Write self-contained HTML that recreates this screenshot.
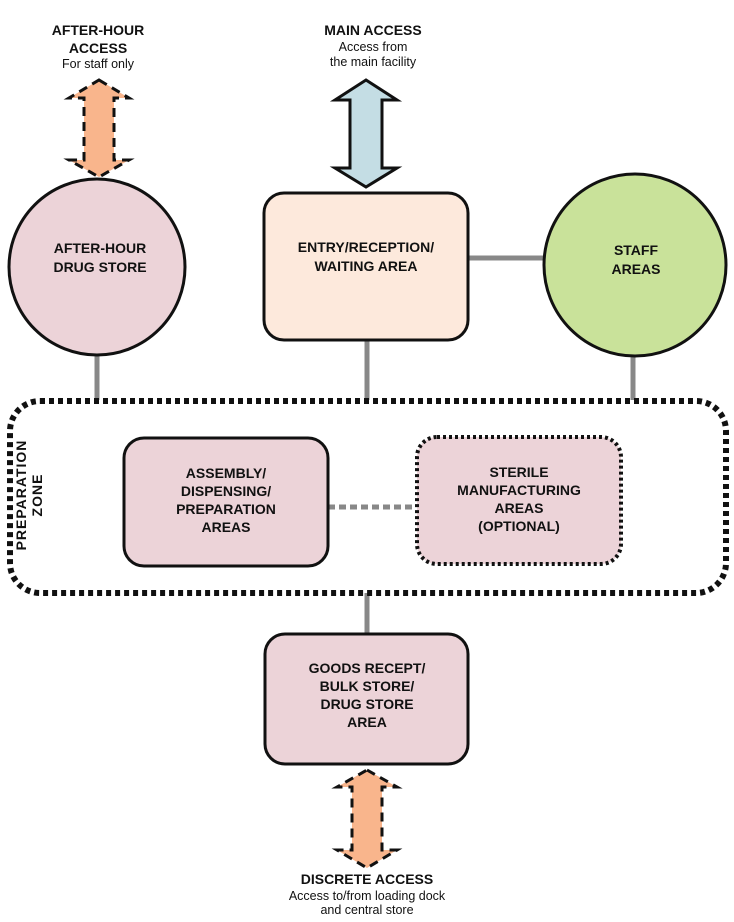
<!DOCTYPE html>
<html><head><style>
body{margin:0;background:#fff;}
svg text{font-family:"Liberation Sans",Arial,sans-serif;fill:#111;}
.b{font-weight:bold;font-size:14px;}
.n{font-size:12.5px;}
</style></head><body>
<svg width="734" height="917" viewBox="0 0 734 917" xmlns="http://www.w3.org/2000/svg">
<!-- labels top -->
<text class="b" x="98" y="35" text-anchor="middle">AFTER-HOUR</text>
<text class="b" x="98" y="53" text-anchor="middle">ACCESS</text>
<text class="n" x="98" y="68" text-anchor="middle">For staff only</text>
<text class="b" x="373" y="35" text-anchor="middle">MAIN ACCESS</text>
<text class="n" x="373" y="51" text-anchor="middle">Access from</text>
<text class="n" x="373" y="66" text-anchor="middle">the main facility</text>
<!-- after-hour arrow -->
<polygon points="99,80 129,98 114,98 114,160 129,160 99,177 69,160 84,160 84,98 69,98" fill="#f9b58c" stroke="#111" stroke-width="3" stroke-dasharray="9,6"/>
<!-- main arrow -->
<polygon points="366,80 397,100 382,100 382,168 397,168 366,187 335,168 350,168 350,100 335,100" fill="#c4dde4" stroke="#111" stroke-width="3"/>
<!-- connectors -->
<g stroke="#888" stroke-width="5">
<line x1="468" y1="258" x2="543" y2="258"/>
<line x1="97" y1="355" x2="97" y2="400"/>
<line x1="367" y1="340" x2="367" y2="400"/>
<line x1="633" y1="355" x2="633" y2="400"/>
<line x1="367" y1="593" x2="367" y2="635"/>
<line x1="328" y1="507" x2="415" y2="507" stroke-dasharray="7,4"/>
</g>
<!-- nodes -->
<circle cx="97" cy="267" r="88" fill="#ecd3d8" stroke="#111" stroke-width="3"/>
<text class="b" x="100" y="253" text-anchor="middle">AFTER-HOUR</text>
<text class="b" x="100" y="272" text-anchor="middle">DRUG STORE</text>
<rect x="264" y="193" width="204" height="147" rx="20" fill="#fde9dc" stroke="#111" stroke-width="3"/>
<text class="b" x="366" y="252" text-anchor="middle">ENTRY/RECEPTION/</text>
<text class="b" x="366" y="271" text-anchor="middle">WAITING AREA</text>
<circle cx="635" cy="265" r="91" fill="#c9e29a" stroke="#111" stroke-width="3"/>
<text class="b" x="636" y="255" text-anchor="middle">STAFF</text>
<text class="b" x="636" y="274" text-anchor="middle">AREAS</text>
<!-- prep zone -->
<rect x="10" y="401" width="716" height="192" rx="30" fill="none" stroke="#111" stroke-width="6" stroke-dasharray="5,4"/>
<text class="b" transform="translate(26,495) rotate(-90)" text-anchor="middle" style="letter-spacing:1px">PREPARATION</text>
<text class="b" transform="translate(42,495) rotate(-90)" text-anchor="middle" style="letter-spacing:1px">ZONE</text>
<rect x="124" y="438" width="204" height="128" rx="20" fill="#ecd3d8" stroke="#111" stroke-width="3"/>
<text class="b" x="226" y="478" text-anchor="middle">ASSEMBLY/</text>
<text class="b" x="226" y="496" text-anchor="middle">DISPENSING/</text>
<text class="b" x="226" y="514" text-anchor="middle">PREPARATION</text>
<text class="b" x="226" y="532" text-anchor="middle">AREAS</text>
<rect x="417" y="437" width="204" height="127" rx="20" fill="#ecd3d8" stroke="#111" stroke-width="4" stroke-dasharray="3,3"/>
<text class="b" x="519" y="477" text-anchor="middle">STERILE</text>
<text class="b" x="519" y="495" text-anchor="middle">MANUFACTURING</text>
<text class="b" x="519" y="513" text-anchor="middle">AREAS</text>
<text class="b" x="519" y="531" text-anchor="middle">(OPTIONAL)</text>
<!-- goods -->
<rect x="265" y="634" width="203" height="130" rx="20" fill="#ecd3d8" stroke="#111" stroke-width="3"/>
<text class="b" x="367" y="673" text-anchor="middle">GOODS RECEPT/</text>
<text class="b" x="367" y="691" text-anchor="middle">BULK STORE/</text>
<text class="b" x="367" y="709" text-anchor="middle">DRUG STORE</text>
<text class="b" x="367" y="727" text-anchor="middle">AREA</text>
<!-- discrete arrow -->
<polygon points="367,770 397,787 382,787 382,850 397,850 367,868 337,850 352,850 352,787 337,787" fill="#f9b58c" stroke="#111" stroke-width="3" stroke-dasharray="9,6"/>
<text class="b" x="367" y="884" text-anchor="middle">DISCRETE ACCESS</text>
<text class="n" x="367" y="900" text-anchor="middle">Access to/from loading dock</text>
<text class="n" x="367" y="914" text-anchor="middle">and central store</text>
</svg>
</body></html>
